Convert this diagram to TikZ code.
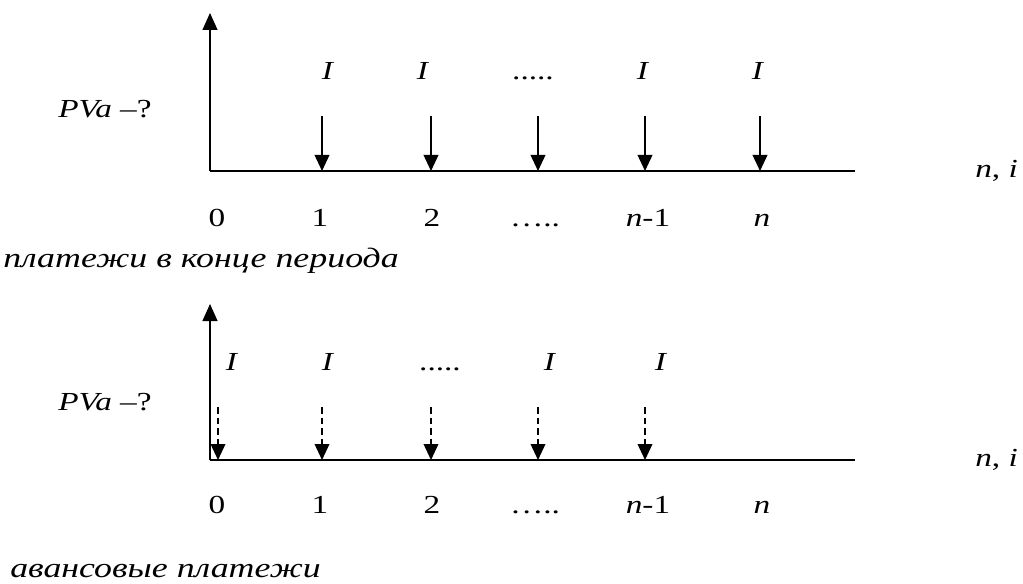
\documentclass[tikz,border=0pt]{standalone}
\usepackage{fontspec}
\setmainfont{Liberation Serif}[FakeStretch=1.28]
\usetikzlibrary{arrows.meta}
\begin{document}
\begin{tikzpicture}[x=0.75pt,y=-0.75pt,
  lbl/.style={font=\fontsize{19.5}{22}\selectfont, inner sep=0pt, anchor=base},
  lblw/.style={lbl, anchor=base west},
  capt/.style={lblw, font=\fontsize{21}{24}\selectfont\itshape},
  axis/.style={line width=1.4pt},
  thickpart/.style={line width=1.9pt},
  pay/.style={line width=1.2pt, -{Triangle[length=12pt,width=11pt]}},
  adv/.style={pay, dash pattern=on 5pt off 3pt},
  vax/.style={line width=0.8pt, -{Triangle[length=12.75pt,width=11.25pt]}}
]
\useasboundingbox (0,0) rectangle (1023,584);

% ---------- top chart ----------
\coordinate (o1) at (210,171);
\coordinate (e1) at (855,171);
\coordinate (t1) at (210,13);
\coordinate (k1) at (210,99);
\draw[axis] (o1) -- (e1);
\draw[vax] (o1) -- (t1);
\draw[thickpart] (o1) -- (k1);
\foreach \x [count=\i] in {322,431,538,645,760}{
  \coordinate (as\i) at (\x,116);
  \coordinate (ae\i) at (\x,171);
  \draw[pay] (as\i) -- (ae\i);
}
\node[lblw] (pv1) at (58,118) {\textit{PVa} –?};
\node[lbl] (i11) at (328,80) {\textit{I}};
\node[lbl] (i12) at (423,80) {\textit{I}};
\node[lbl] (d1)  at (533,80) {.....};
\node[lbl] (i14) at (643,80) {\textit{I}};
\node[lbl] (i15) at (758,80) {\textit{I}};
\node[lbl] (n0a) at (217,227) {0};
\node[lbl] (n1a) at (320,227) {1};
\node[lbl] (n2a) at (432,227) {2};
\node[lbl] (nda) at (535,227) {…..};
\node[lbl] (nma) at (648,227) {\textit{n}-1};
\node[lbl] (nna) at (762,227) {\textit{n}};
\node[lblw] (ni1) at (975,178) {\textit{n}, \textit{i}};
\node[capt] (c1) at (3,268) {платежи в конце периода};

% ---------- bottom chart ----------
\coordinate (o2) at (210,460);
\coordinate (e2) at (855,460);
\coordinate (t2) at (210,304);
\coordinate (k2) at (210,389);
\draw[axis] (o2) -- (e2);
\draw[vax] (o2) -- (t2);
\draw[thickpart] (o2) -- (k2);
\foreach \x [count=\i] in {218,322,431,538,645}{
  \coordinate (bs\i) at (\x,407);
  \coordinate (be\i) at (\x,460);
  \draw[adv] (bs\i) -- (be\i);
}
\node[lblw] (pv2) at (58,410) {\textit{PVa} –?};
\node[lbl] (i21) at (232,370) {\textit{I}};
\node[lbl] (i22) at (328,370) {\textit{I}};
\node[lbl] (d2)  at (440,370) {.....};
\node[lbl] (i24) at (550,370) {\textit{I}};
\node[lbl] (i25) at (661,370) {\textit{I}};
\node[lbl] (n0b) at (217,513) {0};
\node[lbl] (n1b) at (320,513) {1};
\node[lbl] (n2b) at (432,513) {2};
\node[lbl] (ndb) at (535,513) {…..};
\node[lbl] (nmb) at (648,513) {\textit{n}-1};
\node[lbl] (nnb) at (762,513) {\textit{n}};
\node[lblw] (ni2) at (975,466) {\textit{n}, \textit{i}};
\node[capt] (c2) at (10,577) {авансовые платежи};
\end{tikzpicture}
\end{document}
